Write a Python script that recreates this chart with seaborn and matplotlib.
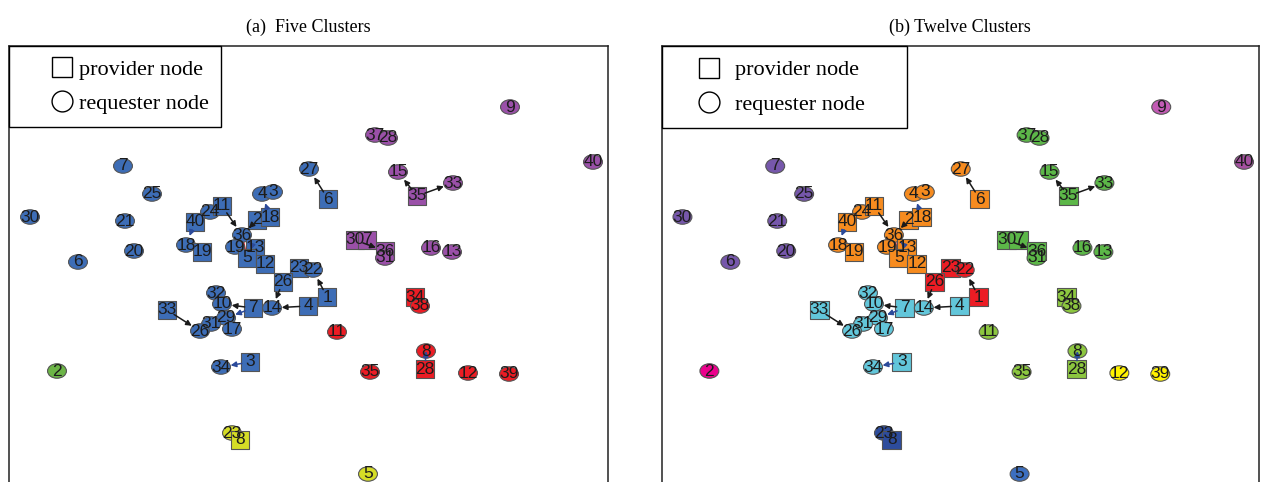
import pandas as pd
import matplotlib
matplotlib.use('Agg')
import matplotlib.pyplot as plt
import seaborn as sns
from matplotlib.lines import Line2D
from matplotlib.path import Path
from matplotlib.transforms import Affine2D

# nodes: label, kind (P = provider, R = requester), position, cluster in (a) and in (b)
labels = ['7', '25', '30', '21', '20', '6', '27', '6', '4', '3', '2', '18', '24', '11', '40', '18',
          '19', '36', '19', '13', '5', '12', '23', '22', '26', '1', '32', '10', '7', '14', '4', '33',
          '29', '31', '26', '17', '3', '34', '37', '28', '15', '35', '33', '30', '7', '36', '31', '16',
          '13', '9', '40', '34', '38', '11', '8', '28', '35', '12', '39', '2', '23', '8', '5']
kinds = ['R', 'R', 'R', 'R', 'R', 'R', 'R', 'P', 'R', 'R', 'P', 'P', 'R', 'P', 'P', 'R',
         'P', 'R', 'R', 'P', 'P', 'P', 'P', 'R', 'P', 'P', 'R', 'R', 'P', 'R', 'P', 'P',
         'R', 'R', 'R', 'R', 'P', 'R', 'R', 'R', 'R', 'P', 'R', 'P', 'P', 'P', 'R', 'R',
         'R', 'R', 'R', 'P', 'R', 'R', 'R', 'P', 'R', 'R', 'R', 'R', 'R', 'P', 'R']
xs = [114, 143, 21, 116, 125, 69, 300, 319, 253, 264, 248, 261, 201, 213, 186, 177,
      193, 233, 226, 246, 238, 256, 290, 304, 274, 318, 207, 213, 244, 263, 299, 158,
      217, 202, 191, 223, 241, 212, 366, 379, 389, 408, 444, 346, 358, 376, 376, 422,
      443, 501, 584, 406, 411, 328, 417, 416, 361, 459, 500, 48, 223, 231, 359]
ys = [120, 148, 171, 175, 205, 216, 123, 153, 148, 146, 174, 171, 166, 160, 176, 199,
      206, 189, 201, 202, 212, 218, 222, 224, 236, 251, 247, 258, 262, 262, 260, 264,
      272, 278, 285, 283, 316, 321, 89, 92, 126, 150, 137, 194, 194, 205, 212, 202,
      206, 61, 116, 251, 260, 286, 305, 323, 326, 327, 328, 325, 387, 394, 428]
clus_a = ['blue'] * 38 + ['purple'] * 13 + ['red'] * 8 + ['green'] + ['yellow'] * 3
clus_b = (['purple'] * 6 + ['orange'] * 16 + ['red'] * 4 + ['cyan'] * 12 + ['green'] * 11
          + ['magenta', 'violet'] + ['lime'] * 6 + ['yellow'] * 2 + ['pink'] + ['navy'] * 2 + ['blue'])

# links between nodes: source index, target index, colour, arrow head or plain line
edge_src = [7, 13, 10, 24, 25, 30, 31, 28, 41, 41, 43, 11, 14, 28, 36, 55, 19, 14, 15, 28, 17, 13, 51, 60, 22]
edge_dst = [6, 17, 17, 29, 23, 29, 34, 27, 40, 42, 45, 8, 15, 32, 37, 54, 17, 12, 16, 29, 20, 12, 52, 61, 23]
edge_col = ['k'] * 11 + ['b'] * 6 + ['r'] * 4 + ['g'] * 4

pal_a = {'blue': '#3d6db6', 'purple': '#9a50a8', 'red': '#ec1c24', 'green': '#6cb547', 'yellow': '#d5dd26'}
pal_b = {'purple': '#7657ab', 'orange': '#f68b1f', 'red': '#ec1c24', 'cyan': '#62c6da',
         'green': '#5cb748', 'lime': '#8cc63f', 'yellow': '#fff200', 'magenta': '#c25bb4',
         'violet': '#a4509f', 'pink': '#ec008c', 'navy': '#2d4c9c', 'blue': '#3c6fc0'}
line_cols = {'k': '#1a1a1a', 'b': '#2b4a9a', 'r': '#e8161e', 'g': '#7cc242'}

df = pd.DataFrame({'x': xs, 'y': ys, 'label': labels,
                   'kind': ['provider' if k == 'P' else 'requester' for k in kinds],
                   'a': clus_a, 'b': clus_b})

# requester nodes are drawn as slightly flattened ellipses
ellipse = Path.unit_circle().transformed(Affine2D().scale(1.12, 0.86))

fig = plt.figure(figsize=(12.64, 4.82), dpi=100)
ax1 = fig.add_axes([9 / 1264, (482 - 496) / 482, 599 / 1264, 450 / 482])
ax2 = fig.add_axes([661.5 / 1264, (482 - 496) / 482, 597.5 / 1264, 450 / 482])


def draw_panel(ax, col, pal, title, leg_w, hlen, hpad, lspace, bpad):
    sns.scatterplot(data=df, x='x', y='y', hue=col, palette=pal, style='kind',
                    markers={'provider': 's', 'requester': ellipse}, s=185,
                    edgecolor='#555555', linewidth=0.8, legend=False, ax=ax, zorder=2)
    for s, d, c in zip(edge_src, edge_dst, edge_col):
        if c in ('k', 'b'):
            ax.annotate('', xy=(xs[d], ys[d]), xytext=(xs[s], ys[s]),
                        arrowprops=dict(arrowstyle='-|>', color=line_cols[c], lw=1.1,
                                        mutation_scale=8, shrinkA=6, shrinkB=7), zorder=3)
        else:
            ax.plot([xs[s], xs[d]], [ys[s], ys[d]], color=line_cols[c], lw=1.2, zorder=1.5)
    for x, y, t in zip(xs, ys, labels):
        ax.text(x, y, t, ha='center', va='center', fontsize=12.5, color='#1c1c1c',
                family='Liberation Sans', zorder=4)
    ax.set_xlim(0, 599)
    ax.set_ylim(450, 0)
    ax.set_xticks([])
    ax.set_yticks([])
    ax.set_xlabel('')
    ax.set_ylabel('')
    ax.spines['bottom'].set_visible(False)
    for sp in ('top', 'left', 'right'):
        ax.spines[sp].set_linewidth(1.1)
        ax.spines[sp].set_color('#222222')
    ax.set_title(title, family='Liberation Serif', fontsize=13, pad=10)
    handles = [Line2D([], [], ls='none', marker='s', ms=14, mfc='white', mec='black', mew=1,
                      label='provider node'),
               Line2D([], [], ls='none', marker='o', ms=15, mfc='white', mec='black', mew=1,
                      label='requester node')]
    leg = ax.legend(handles=handles, loc='upper left', bbox_to_anchor=(0, 1, leg_w, 0),
                    mode='expand', borderaxespad=0, borderpad=bpad, labelspacing=lspace,
                    handlelength=hlen, handletextpad=hpad, frameon=True, fancybox=False,
                    edgecolor='black', framealpha=1,
                    prop={'family': 'Liberation Serif', 'size': 16})
    leg.get_frame().set_linewidth(1.0)


draw_panel(ax1, 'a', pal_a, '(a)  Five Clusters', 212 / 599, 3.6, -1.05, 0.6, 0.6)
draw_panel(ax2, 'b', pal_b, '(b) Twelve Clusters', 245 / 597, 3.0, -0.32, 0.62, 0.62)

fig.savefig('out.png', dpi=100)
